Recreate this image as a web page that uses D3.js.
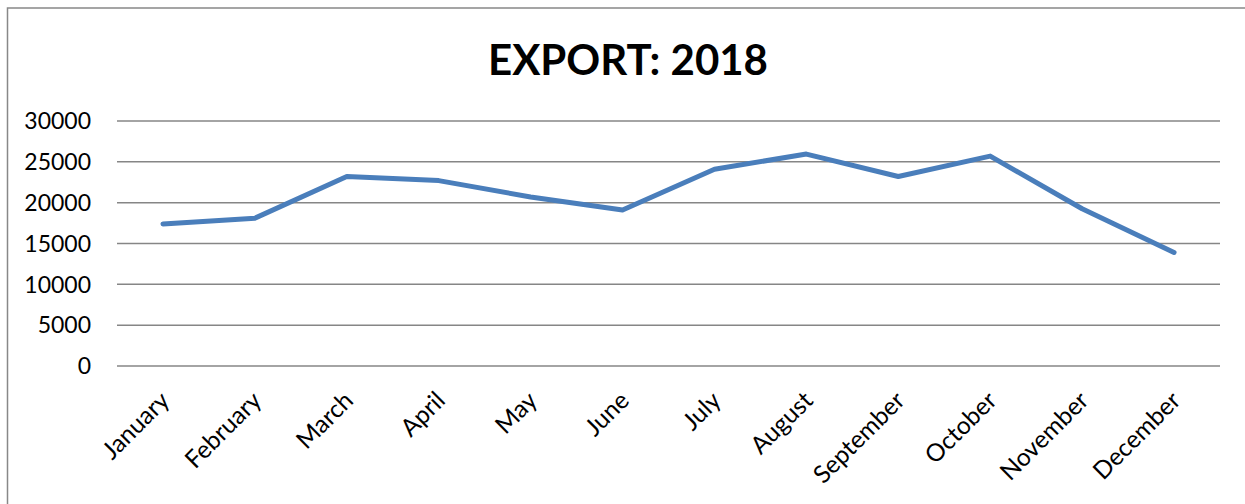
<!DOCTYPE html>
<html lang="en">
<head>
    <meta charset="UTF-8">
    <title>EXPORT: 2018</title>
    <script src="https://d3js.org/d3.v7.min.js"></script>
    <style>
        body { margin: 0; overflow: hidden; background: #fff; }
        svg { display: block; }
        text { font-family: Lato, "Open Sans", sans-serif; fill: #000; }
        .grid line { stroke: #868686; stroke-width: 1.5; }
    </style>
</head>
<body>
    <svg></svg>
    <script>
        const months = ["January", "February", "March", "April", "May", "June",
                        "July", "August", "September", "October", "November", "December"];
        const exports2018 = [17400, 18100, 23200, 22700, 20700, 19100,
                             24100, 25950, 23200, 25700, 19250, 13900];
        const yTicks = [0, 5000, 10000, 15000, 20000, 25000, 30000];

        const width = 1245, height = 504;
        const margin = { top: 121, right: 25, bottom: 138, left: 117 };

        const svg = d3.select("svg").attr("width", width).attr("height", height);

        // chart frame
        svg.append("rect")
            .attr("x", 7.5).attr("y", 8)
            .attr("width", width - 6).attr("height", height + 4)
            .attr("fill", "none")
            .attr("stroke", "#888")
            .attr("stroke-width", 1.5);

        svg.append("text")
            .attr("x", 628).attr("y", 75)
            .attr("text-anchor", "middle")
            .attr("font-size", 42)
            .attr("font-weight", "bold")
            .text("EXPORT: 2018");

        const x = d3.scaleBand().domain(months).range([margin.left, width - margin.right]);
        const y = d3.scaleLinear().domain([0, 30000]).range([height - margin.bottom, margin.top]);

        // gridlines + y labels
        const grid = svg.append("g").attr("class", "grid");
        grid.selectAll("line").data(yTicks).enter().append("line")
            .attr("x1", margin.left).attr("x2", width - margin.right)
            .attr("y1", d => y(d)).attr("y2", d => y(d));

        svg.append("g").selectAll("text").data(yTicks).enter().append("text")
            .attr("x", 91).attr("y", d => y(d))
            .attr("dy", "0.36em")
            .attr("text-anchor", "end")
            .attr("font-size", 23)
            .text(d => d);

        // x labels, rotated
        svg.append("g").selectAll("text").data(months).enter().append("text")
            .attr("text-anchor", "end")
            .attr("font-size", 24.5)
            .attr("transform", d => `translate(${x(d) + x.bandwidth() / 2 + 8},${y(0) + 36}) rotate(-45)`)
            .text(d => d);

        const line = d3.line()
            .x((d, i) => x(months[i]) + x.bandwidth() / 2)
            .y(d => y(d));

        svg.append("path")
            .datum(exports2018)
            .attr("fill", "none")
            .attr("stroke", "#4a7ebb")
            .attr("stroke-width", 5)
            .attr("stroke-linejoin", "round")
            .attr("stroke-linecap", "round")
            .attr("d", line);
    </script>
</body>
</html>
